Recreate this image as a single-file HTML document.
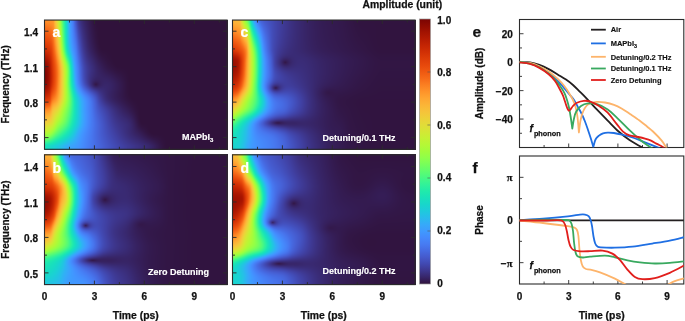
<!DOCTYPE html>
<html><head><meta charset="utf-8"><style>
html,body{margin:0;padding:0;background:#fff;}
body{width:685px;height:321px;position:relative;overflow:hidden;font-family:"Liberation Sans", sans-serif;}
canvas{position:absolute;}
svg{position:absolute;left:0;top:0;}
</style></head><body>
<canvas id="h00" width="184" height="130" style="left:44px;top:20px;width:184px;height:130px;background:linear-gradient(to right,#9b1001 0%,#dd3d08 4.5%,#fe972c 7.6%,#e1dc38 9.8%,#a2fc3c 11.5%,#59fb74 13%,#18d6cb 15.3%,#3f9afe 17.8%,#477af2 20%,#4559cc 22.4%,#3f3e9d 27%,#36215f 41%,#30123b 50%)"></canvas>
<canvas id="h01" width="184" height="131" style="left:44px;top:154px;width:184px;height:131px;background:linear-gradient(to right,#9b1001 0%,#dd3d08 4.5%,#fe972c 7.6%,#e1dc38 9.8%,#a2fc3c 11.5%,#59fb74 13%,#18d6cb 15.3%,#3f9afe 17.8%,#477af2 20%,#4559cc 22.4%,#3f3e9d 27%,#36215f 41%,#30123b 50%)"></canvas>
<canvas id="h10" width="184" height="130" style="left:232px;top:20px;width:184px;height:130px;background:linear-gradient(to right,#9b1001 0%,#dd3d08 4.5%,#fe972c 7.6%,#e1dc38 9.8%,#a2fc3c 11.5%,#59fb74 13%,#18d6cb 15.3%,#3f9afe 17.8%,#477af2 20%,#4559cc 22.4%,#3f3e9d 27%,#36215f 41%,#30123b 50%)"></canvas>
<canvas id="h11" width="184" height="131" style="left:232px;top:154px;width:184px;height:131px;background:linear-gradient(to right,#9b1001 0%,#dd3d08 4.5%,#fe972c 7.6%,#e1dc38 9.8%,#a2fc3c 11.5%,#59fb74 13%,#18d6cb 15.3%,#3f9afe 17.8%,#477af2 20%,#4559cc 22.4%,#3f3e9d 27%,#36215f 41%,#30123b 50%)"></canvas>
<svg width="685" height="321" viewBox="0 0 685 321" font-family='"Liberation Sans", sans-serif'><defs><linearGradient id="turbo" x1="0" y1="0" x2="0" y2="1"><stop offset="0.000" stop-color="#7a0403"/><stop offset="0.025" stop-color="#8f0b01"/><stop offset="0.050" stop-color="#a31301"/><stop offset="0.075" stop-color="#b41b02"/><stop offset="0.100" stop-color="#c42503"/><stop offset="0.125" stop-color="#d13005"/><stop offset="0.150" stop-color="#dd3d08"/><stop offset="0.175" stop-color="#e7490c"/><stop offset="0.200" stop-color="#ef5911"/><stop offset="0.225" stop-color="#f66b19"/><stop offset="0.250" stop-color="#fb8022"/><stop offset="0.275" stop-color="#fe942a"/><stop offset="0.300" stop-color="#fea632"/><stop offset="0.325" stop-color="#fbb537"/><stop offset="0.350" stop-color="#f6c33a"/><stop offset="0.375" stop-color="#edd039"/><stop offset="0.400" stop-color="#e1dc38"/><stop offset="0.425" stop-color="#d4e735"/><stop offset="0.450" stop-color="#c5f134"/><stop offset="0.475" stop-color="#b5f836"/><stop offset="0.500" stop-color="#a2fc3c"/><stop offset="0.525" stop-color="#8eff4a"/><stop offset="0.550" stop-color="#76fe5b"/><stop offset="0.575" stop-color="#5efc6f"/><stop offset="0.600" stop-color="#46f884"/><stop offset="0.625" stop-color="#31f299"/><stop offset="0.650" stop-color="#20eaab"/><stop offset="0.675" stop-color="#19e1bb"/><stop offset="0.700" stop-color="#18d6cb"/><stop offset="0.725" stop-color="#1ecadc"/><stop offset="0.750" stop-color="#29bbec"/><stop offset="0.775" stop-color="#36aaf9"/><stop offset="0.800" stop-color="#3f9afe"/><stop offset="0.825" stop-color="#458afc"/><stop offset="0.850" stop-color="#477bf2"/><stop offset="0.875" stop-color="#466ae1"/><stop offset="0.900" stop-color="#4559cb"/><stop offset="0.925" stop-color="#4148b0"/><stop offset="0.950" stop-color="#3d378e"/><stop offset="0.975" stop-color="#372568"/><stop offset="1.000" stop-color="#30123b"/></linearGradient></defs>
<line x1="69.46000000000001" y1="149.3" x2="69.46000000000001" y2="146.8" stroke="#2b2b2b" stroke-width="0.9"/>
<line x1="69.46000000000001" y1="20.05" x2="69.46000000000001" y2="22.55" stroke="#2b2b2b" stroke-width="0.9"/>
<line x1="94.42" y1="149.3" x2="94.42" y2="145.3" stroke="#2b2b2b" stroke-width="0.9"/>
<line x1="94.42" y1="20.05" x2="94.42" y2="24.05" stroke="#2b2b2b" stroke-width="0.9"/>
<line x1="119.38" y1="149.3" x2="119.38" y2="146.8" stroke="#2b2b2b" stroke-width="0.9"/>
<line x1="119.38" y1="20.05" x2="119.38" y2="22.55" stroke="#2b2b2b" stroke-width="0.9"/>
<line x1="144.34" y1="149.3" x2="144.34" y2="145.3" stroke="#2b2b2b" stroke-width="0.9"/>
<line x1="144.34" y1="20.05" x2="144.34" y2="24.05" stroke="#2b2b2b" stroke-width="0.9"/>
<line x1="169.3" y1="149.3" x2="169.3" y2="146.8" stroke="#2b2b2b" stroke-width="0.9"/>
<line x1="169.3" y1="20.05" x2="169.3" y2="22.55" stroke="#2b2b2b" stroke-width="0.9"/>
<line x1="194.26" y1="149.3" x2="194.26" y2="145.3" stroke="#2b2b2b" stroke-width="0.9"/>
<line x1="194.26" y1="20.05" x2="194.26" y2="24.05" stroke="#2b2b2b" stroke-width="0.9"/>
<line x1="219.22" y1="149.3" x2="219.22" y2="146.8" stroke="#2b2b2b" stroke-width="0.9"/>
<line x1="219.22" y1="20.05" x2="219.22" y2="22.55" stroke="#2b2b2b" stroke-width="0.9"/>
<line x1="44.5" y1="31.2" x2="48.5" y2="31.2" stroke="#2b2b2b" stroke-width="0.9"/>
<line x1="227.1" y1="31.2" x2="223.1" y2="31.2" stroke="#2b2b2b" stroke-width="0.9"/>
<line x1="44.5" y1="48.92999999999999" x2="47.0" y2="48.92999999999999" stroke="#2b2b2b" stroke-width="0.9"/>
<line x1="227.1" y1="48.92999999999999" x2="224.6" y2="48.92999999999999" stroke="#2b2b2b" stroke-width="0.9"/>
<line x1="44.5" y1="66.66000000000001" x2="48.5" y2="66.66000000000001" stroke="#2b2b2b" stroke-width="0.9"/>
<line x1="227.1" y1="66.66000000000001" x2="223.1" y2="66.66000000000001" stroke="#2b2b2b" stroke-width="0.9"/>
<line x1="44.5" y1="84.39" x2="47.0" y2="84.39" stroke="#2b2b2b" stroke-width="0.9"/>
<line x1="227.1" y1="84.39" x2="224.6" y2="84.39" stroke="#2b2b2b" stroke-width="0.9"/>
<line x1="44.5" y1="102.12" x2="48.5" y2="102.12" stroke="#2b2b2b" stroke-width="0.9"/>
<line x1="227.1" y1="102.12" x2="223.1" y2="102.12" stroke="#2b2b2b" stroke-width="0.9"/>
<line x1="44.5" y1="119.85000000000001" x2="47.0" y2="119.85000000000001" stroke="#2b2b2b" stroke-width="0.9"/>
<line x1="227.1" y1="119.85000000000001" x2="224.6" y2="119.85000000000001" stroke="#2b2b2b" stroke-width="0.9"/>
<line x1="44.5" y1="137.57999999999998" x2="48.5" y2="137.57999999999998" stroke="#2b2b2b" stroke-width="0.9"/>
<line x1="227.1" y1="137.57999999999998" x2="223.1" y2="137.57999999999998" stroke="#2b2b2b" stroke-width="0.9"/>
<rect x="44.5" y="20.05" width="182.6" height="129.25" fill="none" stroke="#2b2b2b" stroke-width="1.1"/>
<line x1="69.46000000000001" y1="284.6" x2="69.46000000000001" y2="282.1" stroke="#2b2b2b" stroke-width="0.9"/>
<line x1="69.46000000000001" y1="154.8" x2="69.46000000000001" y2="157.3" stroke="#2b2b2b" stroke-width="0.9"/>
<line x1="94.42" y1="284.6" x2="94.42" y2="280.6" stroke="#2b2b2b" stroke-width="0.9"/>
<line x1="94.42" y1="154.8" x2="94.42" y2="158.8" stroke="#2b2b2b" stroke-width="0.9"/>
<line x1="119.38" y1="284.6" x2="119.38" y2="282.1" stroke="#2b2b2b" stroke-width="0.9"/>
<line x1="119.38" y1="154.8" x2="119.38" y2="157.3" stroke="#2b2b2b" stroke-width="0.9"/>
<line x1="144.34" y1="284.6" x2="144.34" y2="280.6" stroke="#2b2b2b" stroke-width="0.9"/>
<line x1="144.34" y1="154.8" x2="144.34" y2="158.8" stroke="#2b2b2b" stroke-width="0.9"/>
<line x1="169.3" y1="284.6" x2="169.3" y2="282.1" stroke="#2b2b2b" stroke-width="0.9"/>
<line x1="169.3" y1="154.8" x2="169.3" y2="157.3" stroke="#2b2b2b" stroke-width="0.9"/>
<line x1="194.26" y1="284.6" x2="194.26" y2="280.6" stroke="#2b2b2b" stroke-width="0.9"/>
<line x1="194.26" y1="154.8" x2="194.26" y2="158.8" stroke="#2b2b2b" stroke-width="0.9"/>
<line x1="219.22" y1="284.6" x2="219.22" y2="282.1" stroke="#2b2b2b" stroke-width="0.9"/>
<line x1="219.22" y1="154.8" x2="219.22" y2="157.3" stroke="#2b2b2b" stroke-width="0.9"/>
<line x1="44.5" y1="166.5" x2="48.5" y2="166.5" stroke="#2b2b2b" stroke-width="0.9"/>
<line x1="227.1" y1="166.5" x2="223.1" y2="166.5" stroke="#2b2b2b" stroke-width="0.9"/>
<line x1="44.5" y1="184.23" x2="47.0" y2="184.23" stroke="#2b2b2b" stroke-width="0.9"/>
<line x1="227.1" y1="184.23" x2="224.6" y2="184.23" stroke="#2b2b2b" stroke-width="0.9"/>
<line x1="44.5" y1="201.96" x2="48.5" y2="201.96" stroke="#2b2b2b" stroke-width="0.9"/>
<line x1="227.1" y1="201.96" x2="223.1" y2="201.96" stroke="#2b2b2b" stroke-width="0.9"/>
<line x1="44.5" y1="219.69" x2="47.0" y2="219.69" stroke="#2b2b2b" stroke-width="0.9"/>
<line x1="227.1" y1="219.69" x2="224.6" y2="219.69" stroke="#2b2b2b" stroke-width="0.9"/>
<line x1="44.5" y1="237.42000000000002" x2="48.5" y2="237.42000000000002" stroke="#2b2b2b" stroke-width="0.9"/>
<line x1="227.1" y1="237.42000000000002" x2="223.1" y2="237.42000000000002" stroke="#2b2b2b" stroke-width="0.9"/>
<line x1="44.5" y1="255.15" x2="47.0" y2="255.15" stroke="#2b2b2b" stroke-width="0.9"/>
<line x1="227.1" y1="255.15" x2="224.6" y2="255.15" stroke="#2b2b2b" stroke-width="0.9"/>
<line x1="44.5" y1="272.88" x2="48.5" y2="272.88" stroke="#2b2b2b" stroke-width="0.9"/>
<line x1="227.1" y1="272.88" x2="223.1" y2="272.88" stroke="#2b2b2b" stroke-width="0.9"/>
<rect x="44.5" y="154.8" width="182.6" height="129.8" fill="none" stroke="#2b2b2b" stroke-width="1.1"/>
<line x1="257.46" y1="149.3" x2="257.46" y2="146.8" stroke="#2b2b2b" stroke-width="0.9"/>
<line x1="257.46" y1="20.05" x2="257.46" y2="22.55" stroke="#2b2b2b" stroke-width="0.9"/>
<line x1="282.42" y1="149.3" x2="282.42" y2="145.3" stroke="#2b2b2b" stroke-width="0.9"/>
<line x1="282.42" y1="20.05" x2="282.42" y2="24.05" stroke="#2b2b2b" stroke-width="0.9"/>
<line x1="307.38" y1="149.3" x2="307.38" y2="146.8" stroke="#2b2b2b" stroke-width="0.9"/>
<line x1="307.38" y1="20.05" x2="307.38" y2="22.55" stroke="#2b2b2b" stroke-width="0.9"/>
<line x1="332.34000000000003" y1="149.3" x2="332.34000000000003" y2="145.3" stroke="#2b2b2b" stroke-width="0.9"/>
<line x1="332.34000000000003" y1="20.05" x2="332.34000000000003" y2="24.05" stroke="#2b2b2b" stroke-width="0.9"/>
<line x1="357.3" y1="149.3" x2="357.3" y2="146.8" stroke="#2b2b2b" stroke-width="0.9"/>
<line x1="357.3" y1="20.05" x2="357.3" y2="22.55" stroke="#2b2b2b" stroke-width="0.9"/>
<line x1="382.26" y1="149.3" x2="382.26" y2="145.3" stroke="#2b2b2b" stroke-width="0.9"/>
<line x1="382.26" y1="20.05" x2="382.26" y2="24.05" stroke="#2b2b2b" stroke-width="0.9"/>
<line x1="407.22" y1="149.3" x2="407.22" y2="146.8" stroke="#2b2b2b" stroke-width="0.9"/>
<line x1="407.22" y1="20.05" x2="407.22" y2="22.55" stroke="#2b2b2b" stroke-width="0.9"/>
<line x1="232.5" y1="31.2" x2="236.5" y2="31.2" stroke="#2b2b2b" stroke-width="0.9"/>
<line x1="415.1" y1="31.2" x2="411.1" y2="31.2" stroke="#2b2b2b" stroke-width="0.9"/>
<line x1="232.5" y1="48.92999999999999" x2="235.0" y2="48.92999999999999" stroke="#2b2b2b" stroke-width="0.9"/>
<line x1="415.1" y1="48.92999999999999" x2="412.6" y2="48.92999999999999" stroke="#2b2b2b" stroke-width="0.9"/>
<line x1="232.5" y1="66.66000000000001" x2="236.5" y2="66.66000000000001" stroke="#2b2b2b" stroke-width="0.9"/>
<line x1="415.1" y1="66.66000000000001" x2="411.1" y2="66.66000000000001" stroke="#2b2b2b" stroke-width="0.9"/>
<line x1="232.5" y1="84.39" x2="235.0" y2="84.39" stroke="#2b2b2b" stroke-width="0.9"/>
<line x1="415.1" y1="84.39" x2="412.6" y2="84.39" stroke="#2b2b2b" stroke-width="0.9"/>
<line x1="232.5" y1="102.12" x2="236.5" y2="102.12" stroke="#2b2b2b" stroke-width="0.9"/>
<line x1="415.1" y1="102.12" x2="411.1" y2="102.12" stroke="#2b2b2b" stroke-width="0.9"/>
<line x1="232.5" y1="119.85000000000001" x2="235.0" y2="119.85000000000001" stroke="#2b2b2b" stroke-width="0.9"/>
<line x1="415.1" y1="119.85000000000001" x2="412.6" y2="119.85000000000001" stroke="#2b2b2b" stroke-width="0.9"/>
<line x1="232.5" y1="137.57999999999998" x2="236.5" y2="137.57999999999998" stroke="#2b2b2b" stroke-width="0.9"/>
<line x1="415.1" y1="137.57999999999998" x2="411.1" y2="137.57999999999998" stroke="#2b2b2b" stroke-width="0.9"/>
<rect x="232.5" y="20.05" width="182.6" height="129.25" fill="none" stroke="#2b2b2b" stroke-width="1.1"/>
<line x1="257.46" y1="284.6" x2="257.46" y2="282.1" stroke="#2b2b2b" stroke-width="0.9"/>
<line x1="257.46" y1="154.8" x2="257.46" y2="157.3" stroke="#2b2b2b" stroke-width="0.9"/>
<line x1="282.42" y1="284.6" x2="282.42" y2="280.6" stroke="#2b2b2b" stroke-width="0.9"/>
<line x1="282.42" y1="154.8" x2="282.42" y2="158.8" stroke="#2b2b2b" stroke-width="0.9"/>
<line x1="307.38" y1="284.6" x2="307.38" y2="282.1" stroke="#2b2b2b" stroke-width="0.9"/>
<line x1="307.38" y1="154.8" x2="307.38" y2="157.3" stroke="#2b2b2b" stroke-width="0.9"/>
<line x1="332.34000000000003" y1="284.6" x2="332.34000000000003" y2="280.6" stroke="#2b2b2b" stroke-width="0.9"/>
<line x1="332.34000000000003" y1="154.8" x2="332.34000000000003" y2="158.8" stroke="#2b2b2b" stroke-width="0.9"/>
<line x1="357.3" y1="284.6" x2="357.3" y2="282.1" stroke="#2b2b2b" stroke-width="0.9"/>
<line x1="357.3" y1="154.8" x2="357.3" y2="157.3" stroke="#2b2b2b" stroke-width="0.9"/>
<line x1="382.26" y1="284.6" x2="382.26" y2="280.6" stroke="#2b2b2b" stroke-width="0.9"/>
<line x1="382.26" y1="154.8" x2="382.26" y2="158.8" stroke="#2b2b2b" stroke-width="0.9"/>
<line x1="407.22" y1="284.6" x2="407.22" y2="282.1" stroke="#2b2b2b" stroke-width="0.9"/>
<line x1="407.22" y1="154.8" x2="407.22" y2="157.3" stroke="#2b2b2b" stroke-width="0.9"/>
<line x1="232.5" y1="166.5" x2="236.5" y2="166.5" stroke="#2b2b2b" stroke-width="0.9"/>
<line x1="415.1" y1="166.5" x2="411.1" y2="166.5" stroke="#2b2b2b" stroke-width="0.9"/>
<line x1="232.5" y1="184.23" x2="235.0" y2="184.23" stroke="#2b2b2b" stroke-width="0.9"/>
<line x1="415.1" y1="184.23" x2="412.6" y2="184.23" stroke="#2b2b2b" stroke-width="0.9"/>
<line x1="232.5" y1="201.96" x2="236.5" y2="201.96" stroke="#2b2b2b" stroke-width="0.9"/>
<line x1="415.1" y1="201.96" x2="411.1" y2="201.96" stroke="#2b2b2b" stroke-width="0.9"/>
<line x1="232.5" y1="219.69" x2="235.0" y2="219.69" stroke="#2b2b2b" stroke-width="0.9"/>
<line x1="415.1" y1="219.69" x2="412.6" y2="219.69" stroke="#2b2b2b" stroke-width="0.9"/>
<line x1="232.5" y1="237.42000000000002" x2="236.5" y2="237.42000000000002" stroke="#2b2b2b" stroke-width="0.9"/>
<line x1="415.1" y1="237.42000000000002" x2="411.1" y2="237.42000000000002" stroke="#2b2b2b" stroke-width="0.9"/>
<line x1="232.5" y1="255.15" x2="235.0" y2="255.15" stroke="#2b2b2b" stroke-width="0.9"/>
<line x1="415.1" y1="255.15" x2="412.6" y2="255.15" stroke="#2b2b2b" stroke-width="0.9"/>
<line x1="232.5" y1="272.88" x2="236.5" y2="272.88" stroke="#2b2b2b" stroke-width="0.9"/>
<line x1="415.1" y1="272.88" x2="411.1" y2="272.88" stroke="#2b2b2b" stroke-width="0.9"/>
<rect x="232.5" y="154.8" width="182.6" height="129.8" fill="none" stroke="#2b2b2b" stroke-width="1.1"/>
<text x="38" y="36.1" font-size="10" text-anchor="end" fill="#111" font-weight="bold" stroke="#111" stroke-width="0.25" >1.4</text>
<text x="38" y="71.56" font-size="10" text-anchor="end" fill="#111" font-weight="bold" stroke="#111" stroke-width="0.25" >1.1</text>
<text x="38" y="107.02" font-size="10" text-anchor="end" fill="#111" font-weight="bold" stroke="#111" stroke-width="0.25" >0.8</text>
<text x="38" y="142.48" font-size="10" text-anchor="end" fill="#111" font-weight="bold" stroke="#111" stroke-width="0.25" >0.5</text>
<text x="0" y="0" font-size="10" text-anchor="middle" fill="#111" font-weight="bold" stroke="#111" stroke-width="0.25" transform="translate(9.3,84.4) rotate(-90)">Frequency (THz)</text>
<text x="38" y="171.4" font-size="10" text-anchor="end" fill="#111" font-weight="bold" stroke="#111" stroke-width="0.25" >1.4</text>
<text x="38" y="206.86" font-size="10" text-anchor="end" fill="#111" font-weight="bold" stroke="#111" stroke-width="0.25" >1.1</text>
<text x="38" y="242.32" font-size="10" text-anchor="end" fill="#111" font-weight="bold" stroke="#111" stroke-width="0.25" >0.8</text>
<text x="38" y="277.78" font-size="10" text-anchor="end" fill="#111" font-weight="bold" stroke="#111" stroke-width="0.25" >0.5</text>
<text x="0" y="0" font-size="10" text-anchor="middle" fill="#111" font-weight="bold" stroke="#111" stroke-width="0.25" transform="translate(9.3,219.70000000000002) rotate(-90)">Frequency (THz)</text>
<text x="44.5" y="299.5" font-size="10" text-anchor="middle" fill="#111" font-weight="bold" stroke="#111" stroke-width="0.25" >0</text>
<text x="94.42" y="299.5" font-size="10" text-anchor="middle" fill="#111" font-weight="bold" stroke="#111" stroke-width="0.25" >3</text>
<text x="144.34" y="299.5" font-size="10" text-anchor="middle" fill="#111" font-weight="bold" stroke="#111" stroke-width="0.25" >6</text>
<text x="194.26" y="299.5" font-size="10" text-anchor="middle" fill="#111" font-weight="bold" stroke="#111" stroke-width="0.25" >9</text>
<text x="135.8" y="318.6" font-size="10.4" text-anchor="middle" fill="#111" font-weight="bold" stroke="#111" stroke-width="0.25" >Time (ps)</text>
<text x="232.5" y="299.5" font-size="10" text-anchor="middle" fill="#111" font-weight="bold" stroke="#111" stroke-width="0.25" >0</text>
<text x="282.42" y="299.5" font-size="10" text-anchor="middle" fill="#111" font-weight="bold" stroke="#111" stroke-width="0.25" >3</text>
<text x="332.34" y="299.5" font-size="10" text-anchor="middle" fill="#111" font-weight="bold" stroke="#111" stroke-width="0.25" >6</text>
<text x="382.26" y="299.5" font-size="10" text-anchor="middle" fill="#111" font-weight="bold" stroke="#111" stroke-width="0.25" >9</text>
<text x="323.8" y="318.6" font-size="10.4" text-anchor="middle" fill="#111" font-weight="bold" stroke="#111" stroke-width="0.25" >Time (ps)</text>
<text x="52.4" y="37.2" font-size="14" text-anchor="start" fill="#fff" font-weight="bold" stroke="#fff" stroke-width="0.2" >a</text>
<text x="52.4" y="172.5" font-size="14" text-anchor="start" fill="#fff" font-weight="bold" stroke="#fff" stroke-width="0.2" >b</text>
<text x="240.4" y="37.2" font-size="14" text-anchor="start" fill="#fff" font-weight="bold" stroke="#fff" stroke-width="0.2" >c</text>
<text x="240.4" y="172.5" font-size="14" text-anchor="start" fill="#fff" font-weight="bold" stroke="#fff" stroke-width="0.2" >d</text>
<text x="182.0" y="139.8" font-size="9" text-anchor="start" fill="#fff" font-weight="bold" stroke="#fff" stroke-width="0.15" >MAPbI<tspan font-size="6" dy="2.2">3</tspan></text>
<text x="148.0" y="274.8" font-size="9" text-anchor="start" fill="#fff" font-weight="bold" stroke="#fff" stroke-width="0.15" >Zero Detuning</text>
<text x="322.4" y="140.5" font-size="9" text-anchor="start" fill="#fff" font-weight="bold" stroke="#fff" stroke-width="0.15" >Detuning/0.1 THz</text>
<text x="322.5" y="274.4" font-size="9" text-anchor="start" fill="#fff" font-weight="bold" stroke="#fff" stroke-width="0.15" >Detuning/0.2 THz</text>
<rect x="419.5" y="19" width="11" height="265" fill="url(#turbo)" stroke="#9a9a9a" stroke-width="0.7"/>
<line x1="427.4" y1="72.0" x2="430.4" y2="72.0" stroke="#555" stroke-width="0.6"/>
<line x1="427.4" y1="125.0" x2="430.4" y2="125.0" stroke="#555" stroke-width="0.6"/>
<line x1="427.4" y1="178.0" x2="430.4" y2="178.0" stroke="#555" stroke-width="0.6"/>
<line x1="427.4" y1="231.0" x2="430.4" y2="231.0" stroke="#555" stroke-width="0.6"/>
<text x="437.3" y="23.5" font-size="10" text-anchor="start" fill="#111" font-weight="bold" stroke="#111" stroke-width="0.25" >1.0</text>
<text x="437.3" y="76.12" font-size="10" text-anchor="start" fill="#111" font-weight="bold" stroke="#111" stroke-width="0.25" >0.8</text>
<text x="437.3" y="128.74" font-size="10" text-anchor="start" fill="#111" font-weight="bold" stroke="#111" stroke-width="0.25" >0.6</text>
<text x="437.3" y="181.36" font-size="10" text-anchor="start" fill="#111" font-weight="bold" stroke="#111" stroke-width="0.25" >0.4</text>
<text x="437.3" y="233.98" font-size="10" text-anchor="start" fill="#111" font-weight="bold" stroke="#111" stroke-width="0.25" >0.2</text>
<text x="437.3" y="286.6" font-size="10" text-anchor="start" fill="#111" font-weight="bold" stroke="#111" stroke-width="0.25" >0</text>
<text x="402.3" y="8.3" font-size="10.4" text-anchor="middle" fill="#111" font-weight="bold" stroke="#111" stroke-width="0.25" >Amplitude (unit)</text>
<rect x="519.5" y="19.5" width="164.29999999999995" height="128.0" fill="none" stroke="#2b2b2b" stroke-width="1.1"/>
<line x1="544.1" y1="147.5" x2="544.1" y2="145.0" stroke="#2b2b2b" stroke-width="0.9"/>
<line x1="568.7" y1="147.5" x2="568.7" y2="143.5" stroke="#2b2b2b" stroke-width="0.9"/>
<line x1="593.3" y1="147.5" x2="593.3" y2="145.0" stroke="#2b2b2b" stroke-width="0.9"/>
<line x1="617.9" y1="147.5" x2="617.9" y2="143.5" stroke="#2b2b2b" stroke-width="0.9"/>
<line x1="642.5" y1="147.5" x2="642.5" y2="145.0" stroke="#2b2b2b" stroke-width="0.9"/>
<line x1="667.1" y1="147.5" x2="667.1" y2="143.5" stroke="#2b2b2b" stroke-width="0.9"/>
<rect x="519.5" y="156" width="164.29999999999995" height="128" fill="none" stroke="#2b2b2b" stroke-width="1.1"/>
<line x1="544.1" y1="284" x2="544.1" y2="281.5" stroke="#2b2b2b" stroke-width="0.9"/>
<line x1="568.7" y1="284" x2="568.7" y2="280" stroke="#2b2b2b" stroke-width="0.9"/>
<line x1="593.3" y1="284" x2="593.3" y2="281.5" stroke="#2b2b2b" stroke-width="0.9"/>
<line x1="617.9" y1="284" x2="617.9" y2="280" stroke="#2b2b2b" stroke-width="0.9"/>
<line x1="642.5" y1="284" x2="642.5" y2="281.5" stroke="#2b2b2b" stroke-width="0.9"/>
<line x1="667.1" y1="284" x2="667.1" y2="280" stroke="#2b2b2b" stroke-width="0.9"/>
<line x1="519.5" y1="33.72222222222222" x2="523.5" y2="33.72222222222222" stroke="#2b2b2b" stroke-width="0.9"/>
<line x1="519.5" y1="47.94444444444444" x2="522.0" y2="47.94444444444444" stroke="#2b2b2b" stroke-width="0.9"/>
<line x1="519.5" y1="62.166666666666664" x2="523.5" y2="62.166666666666664" stroke="#2b2b2b" stroke-width="0.9"/>
<line x1="519.5" y1="76.38888888888889" x2="522.0" y2="76.38888888888889" stroke="#2b2b2b" stroke-width="0.9"/>
<line x1="519.5" y1="90.61111111111111" x2="523.5" y2="90.61111111111111" stroke="#2b2b2b" stroke-width="0.9"/>
<line x1="519.5" y1="104.83333333333333" x2="522.0" y2="104.83333333333333" stroke="#2b2b2b" stroke-width="0.9"/>
<line x1="519.5" y1="119.05555555555556" x2="523.5" y2="119.05555555555556" stroke="#2b2b2b" stroke-width="0.9"/>
<line x1="519.5" y1="133.27777777777777" x2="522.0" y2="133.27777777777777" stroke="#2b2b2b" stroke-width="0.9"/>
<text x="512.8" y="37.62" font-size="10" text-anchor="end" fill="#111" font-weight="bold" stroke="#111" stroke-width="0.25" >20</text>
<text x="512.8" y="66.07" font-size="10" text-anchor="end" fill="#111" font-weight="bold" stroke="#111" stroke-width="0.25" >0</text>
<text x="512.8" y="94.51" font-size="10" text-anchor="end" fill="#111" font-weight="bold" stroke="#111" stroke-width="0.25" >−20</text>
<text x="512.8" y="122.96" font-size="10" text-anchor="end" fill="#111" font-weight="bold" stroke="#111" stroke-width="0.25" >−40</text>
<line x1="519.5" y1="177.33333333333334" x2="523.5" y2="177.33333333333334" stroke="#2b2b2b" stroke-width="0.9"/>
<line x1="519.5" y1="198.66666666666666" x2="522.0" y2="198.66666666666666" stroke="#2b2b2b" stroke-width="0.9"/>
<line x1="519.5" y1="220.0" x2="523.5" y2="220.0" stroke="#2b2b2b" stroke-width="0.9"/>
<line x1="519.5" y1="241.33333333333331" x2="522.0" y2="241.33333333333331" stroke="#2b2b2b" stroke-width="0.9"/>
<line x1="519.5" y1="262.6666666666667" x2="523.5" y2="262.6666666666667" stroke="#2b2b2b" stroke-width="0.9"/>
<text x="512.4" y="181.23" font-size="10" text-anchor="end" fill="#111" font-weight="bold" stroke="#111" stroke-width="0.25" ><tspan font-family="Liberation Serif" font-size="10.5">π</tspan></text>
<text x="512.8" y="223.9" font-size="10" text-anchor="end" fill="#111" font-weight="bold" stroke="#111" stroke-width="0.25" >0</text>
<text x="512.4" y="266.57" font-size="10" text-anchor="end" fill="#111" font-weight="bold" stroke="#111" stroke-width="0.25" >−<tspan font-family="Liberation Serif" font-size="10.5">π</tspan></text>
<text x="0" y="0" font-size="10" text-anchor="middle" fill="#111" font-weight="bold" stroke="#111" stroke-width="0.25" transform="translate(483.3,83.5) rotate(-90)">Amplitude (dB)</text>
<text x="0" y="0" font-size="10" text-anchor="middle" fill="#111" font-weight="bold" stroke="#111" stroke-width="0.25" transform="translate(483.3,220.0) rotate(-90)">Phase</text>
<text x="472.4" y="37.4" font-size="15.5" text-anchor="start" fill="#111" font-weight="bold" stroke="#111" stroke-width="0.25" >e</text>
<text x="472.4" y="173.4" font-size="15.5" text-anchor="start" fill="#111" font-weight="bold" stroke="#111" stroke-width="0.25" >f</text>
<text x="519.5" y="299.5" font-size="10" text-anchor="middle" fill="#111" font-weight="bold" stroke="#111" stroke-width="0.25" >0</text>
<text x="568.7" y="299.5" font-size="10" text-anchor="middle" fill="#111" font-weight="bold" stroke="#111" stroke-width="0.25" >3</text>
<text x="617.9" y="299.5" font-size="10" text-anchor="middle" fill="#111" font-weight="bold" stroke="#111" stroke-width="0.25" >6</text>
<text x="667.1" y="299.5" font-size="10" text-anchor="middle" fill="#111" font-weight="bold" stroke="#111" stroke-width="0.25" >9</text>
<text x="601.65" y="318.6" font-size="10.4" text-anchor="middle" fill="#111" font-weight="bold" stroke="#111" stroke-width="0.25" >Time (ps)</text>
<clipPath id="ce"><rect x="519.5" y="19.5" width="164.3" height="128"/></clipPath>
<clipPath id="cf"><rect x="519.5" y="156" width="164.3" height="128"/></clipPath>
<g clip-path="url(#ce)" fill="none" stroke-width="1.8" stroke-linejoin="round" stroke-linecap="round">
<path d="M519.50,61.90 C521.25,61.98 526.68,61.90 530.00,62.40 C533.32,62.90 536.28,63.78 539.40,64.90 C542.52,66.02 545.60,67.47 548.70,69.10 C551.80,70.73 555.12,72.95 558.00,74.70 C560.88,76.45 563.50,77.88 566.00,79.60 C568.50,81.32 570.67,82.97 573.00,85.00 C575.33,87.03 577.83,89.67 580.00,91.80 C582.17,93.93 583.20,94.87 586.00,97.80 C588.80,100.73 593.18,105.60 596.80,109.40 C600.42,113.20 604.07,116.92 607.70,120.60 C611.33,124.28 614.97,128.27 618.60,131.50 C622.23,134.73 625.77,137.45 629.50,140.00 C633.23,142.55 638.42,145.30 641.00,146.80 C643.58,148.30 644.33,148.63 645.00,149.00" stroke="#231f20"/>
<path d="M519.50,62.00 C521.25,62.22 526.68,62.50 530.00,63.30 C533.32,64.10 536.28,65.22 539.40,66.80 C542.52,68.38 545.60,70.43 548.70,72.80 C551.80,75.17 555.62,78.70 558.00,81.00 C560.38,83.30 561.12,84.38 563.00,86.60 C564.88,88.82 567.47,92.07 569.30,94.30 C571.13,96.53 572.62,97.97 574.00,100.00 C575.38,102.03 576.35,104.25 577.60,106.50 C578.85,108.75 580.27,111.00 581.50,113.50 C582.73,116.00 583.90,118.72 585.00,121.50 C586.10,124.28 587.10,127.28 588.10,130.20 C589.10,133.12 590.13,136.20 591.00,139.00 C591.87,141.80 592.92,145.67 593.30,147.00 C593.67,145.75 594.55,141.40 595.50,139.50 C596.45,137.60 597.75,136.62 599.00,135.60 C600.25,134.58 601.55,133.90 603.00,133.40 C604.45,132.90 605.87,132.67 607.70,132.60 C609.53,132.53 611.60,132.65 614.00,133.00 C616.40,133.35 619.03,133.95 622.10,134.70 C625.17,135.45 628.68,136.27 632.40,137.50 C636.12,138.73 640.40,140.53 644.40,142.10 C648.40,143.67 653.80,145.83 656.40,146.90 C659.00,147.97 659.40,148.23 660.00,148.50" stroke="#1f6fe3"/>
<path d="M519.50,61.90 C521.25,62.08 526.68,62.27 530.00,63.00 C533.32,63.73 536.28,64.87 539.40,66.30 C542.52,67.73 545.60,69.45 548.70,71.60 C551.80,73.75 555.40,76.80 558.00,79.20 C560.60,81.60 562.42,83.63 564.30,86.00 C566.18,88.37 567.85,91.07 569.30,93.40 C570.75,95.73 571.95,97.73 573.00,100.00 C574.05,102.27 574.85,104.17 575.60,107.00 C576.35,109.83 576.95,112.75 577.50,117.00 C578.05,121.25 578.67,129.92 578.90,132.50 C579.18,130.42 579.87,123.58 580.60,120.00 C581.33,116.42 582.27,113.42 583.30,111.00 C584.33,108.58 585.63,106.78 586.80,105.50 C587.97,104.22 588.63,103.90 590.30,103.30 C591.97,102.70 594.35,102.03 596.80,101.90 C599.25,101.77 602.13,102.02 605.00,102.50 C607.87,102.98 611.17,103.77 614.00,104.80 C616.83,105.83 619.33,107.17 622.00,108.70 C624.67,110.23 627.08,112.03 630.00,114.00 C632.92,115.97 636.67,118.42 639.50,120.50 C642.33,122.58 644.75,124.67 647.00,126.50 C649.25,128.33 650.58,129.18 653.00,131.50 C655.42,133.82 659.33,137.82 661.50,140.40 C663.67,142.98 665.00,145.48 666.00,147.00 C667.00,148.52 667.25,149.08 667.50,149.50" stroke="#fdb46b"/>
<path d="M519.50,62.00 C521.25,62.27 526.68,62.72 530.00,63.60 C533.32,64.48 536.28,65.60 539.40,67.30 C542.52,69.00 546.10,71.72 548.70,73.80 C551.30,75.88 553.02,77.63 555.00,79.80 C556.98,81.97 559.00,84.53 560.60,86.80 C562.20,89.07 563.53,91.20 564.60,93.40 C565.67,95.60 566.27,97.65 567.00,100.00 C567.73,102.35 568.38,104.67 569.00,107.50 C569.62,110.33 570.15,113.48 570.70,117.00 C571.25,120.52 572.03,126.67 572.30,128.60 C572.57,127.00 573.28,121.77 573.90,119.00 C574.52,116.23 574.82,114.17 576.00,112.00 C577.18,109.83 579.00,107.43 581.00,106.00 C583.00,104.57 585.33,103.70 588.00,103.40 C590.67,103.10 593.72,103.20 597.00,104.20 C600.28,105.20 604.10,106.88 607.70,109.40 C611.30,111.92 614.97,115.83 618.60,119.30 C622.23,122.77 625.87,126.75 629.50,130.20 C633.13,133.65 637.48,137.53 640.40,140.00 C643.32,142.47 645.23,143.75 647.00,145.00 C648.77,146.25 650.00,146.83 651.00,147.50 C652.00,148.17 652.67,148.75 653.00,149.00" stroke="#39a95f"/>
<path d="M519.50,62.50 C521.25,62.73 526.68,63.00 530.00,63.90 C533.32,64.80 536.28,66.17 539.40,67.90 C542.52,69.63 546.10,72.12 548.70,74.30 C551.30,76.48 553.28,78.75 555.00,81.00 C556.72,83.25 557.70,85.43 559.00,87.80 C560.30,90.17 561.80,92.92 562.80,95.20 C563.80,97.48 564.30,99.45 565.00,101.50 C565.70,103.55 566.38,105.98 567.00,107.50 C567.62,109.02 568.12,110.27 568.70,110.60 C569.28,110.93 569.78,110.27 570.50,109.50 C571.22,108.73 571.92,107.12 573.00,106.00 C574.08,104.88 575.22,103.67 577.00,102.80 C578.78,101.93 581.48,101.00 583.70,100.80 C585.92,100.60 587.75,100.73 590.30,101.60 C592.85,102.47 596.10,104.15 599.00,106.00 C601.90,107.85 604.80,109.77 607.70,112.70 C610.60,115.63 613.85,120.45 616.40,123.60 C618.95,126.75 620.82,129.63 623.00,131.60 C625.18,133.57 626.97,134.50 629.50,135.40 C632.03,136.30 635.62,136.47 638.20,137.00 C640.78,137.53 642.87,138.00 645.00,138.60 C647.13,139.20 649.10,139.77 651.00,140.60 C652.90,141.43 654.50,142.58 656.40,143.60 C658.30,144.62 660.97,145.88 662.40,146.70 C663.83,147.52 664.57,148.20 665.00,148.50" stroke="#e11f1c"/>
</g>
<g clip-path="url(#cf)" fill="none" stroke-width="1.8" stroke-linejoin="round" stroke-linecap="round">
<path d="M519.50,220.30 C546.92,220.30 656.58,220.30 684.00,220.30" stroke="#231f20"/>
<path d="M519.50,220.20 C523.42,219.95 534.93,219.35 543.00,218.70 C551.07,218.05 561.73,216.98 567.90,216.30 C574.07,215.62 577.15,214.88 580.00,214.60 C582.85,214.32 583.57,214.33 585.00,214.60 C586.43,214.87 587.67,215.30 588.60,216.20 C589.53,217.10 590.03,218.37 590.60,220.00 C591.17,221.63 591.52,223.25 592.00,226.00 C592.48,228.75 592.97,233.58 593.50,236.50 C594.03,239.42 594.53,241.82 595.20,243.50 C595.87,245.18 596.53,245.95 597.50,246.60 C598.47,247.25 598.10,247.22 601.00,247.40 C603.90,247.58 609.67,247.82 614.90,247.70 C620.13,247.58 626.17,247.38 632.40,246.70 C638.63,246.02 646.07,244.62 652.30,243.60 C658.53,242.58 664.52,241.67 669.80,240.60 C675.08,239.53 681.63,237.77 684.00,237.20" stroke="#1f6fe3"/>
<path d="M519.50,220.50 C523.42,220.92 534.93,222.05 543.00,223.00 C551.07,223.95 562.65,225.43 567.90,226.20 C573.15,226.97 572.98,226.97 574.50,227.60 C576.02,228.23 576.35,228.60 577.00,230.00 C577.65,231.40 577.98,232.67 578.40,236.00 C578.82,239.33 579.10,246.00 579.50,250.00 C579.90,254.00 580.25,257.25 580.80,260.00 C581.35,262.75 581.93,265.00 582.80,266.50 C583.67,268.00 584.75,268.48 586.00,269.00 C587.25,269.52 587.97,269.05 590.30,269.60 C592.63,270.15 595.90,270.80 600.00,272.30 C604.10,273.80 610.33,276.40 614.90,278.60 C619.47,280.80 623.22,283.27 627.40,285.50 C631.58,287.73 637.90,290.92 640.00,292.00" stroke="#fdb46b"/>
<path d="M655.00,292.00 C657.05,290.83 664.00,286.82 667.30,285.00 C670.60,283.18 672.02,282.22 674.80,281.10 C677.58,279.98 682.47,278.77 684.00,278.30" stroke="#fdb46b"/>
<path d="M519.50,220.20 C523.42,220.10 535.35,219.63 543.00,219.60 C550.65,219.57 560.97,219.80 565.40,220.00 C569.83,220.20 568.57,220.13 569.60,220.80 C570.63,221.47 571.03,222.30 571.60,224.00 C572.17,225.70 572.58,227.83 573.00,231.00 C573.42,234.17 573.68,239.50 574.10,243.00 C574.52,246.50 574.93,249.80 575.50,252.00 C576.07,254.20 576.28,255.28 577.50,256.20 C578.72,257.12 580.72,257.42 582.80,257.50 C584.88,257.58 586.30,257.02 590.00,256.70 C593.70,256.38 600.85,255.50 605.00,255.60 C609.15,255.70 611.17,256.52 614.90,257.30 C618.63,258.08 623.23,259.47 627.40,260.30 C631.57,261.13 635.33,261.77 639.90,262.30 C644.47,262.83 649.82,263.40 654.80,263.50 C659.78,263.60 664.93,263.27 669.80,262.90 C674.67,262.53 681.63,261.57 684.00,261.30" stroke="#39a95f"/>
<path d="M519.50,220.50 C523.42,220.50 536.60,220.55 543.00,220.50 C549.40,220.45 554.65,220.12 557.90,220.20 C561.15,220.28 561.32,220.28 562.50,221.00 C563.68,221.72 564.28,222.83 565.00,224.50 C565.72,226.17 566.20,228.33 566.80,231.00 C567.40,233.67 567.98,237.92 568.60,240.50 C569.22,243.08 569.68,244.92 570.50,246.50 C571.32,248.08 571.87,249.20 573.50,250.00 C575.13,250.80 577.55,251.10 580.30,251.30 C583.05,251.50 586.30,251.32 590.00,251.20 C593.70,251.08 598.77,250.20 602.50,250.60 C606.23,251.00 609.50,252.05 612.40,253.60 C615.30,255.15 617.40,257.23 619.90,259.90 C622.40,262.57 624.90,266.75 627.40,269.60 C629.90,272.45 632.40,275.40 634.90,277.00 C637.40,278.60 639.08,279.02 642.40,279.20 C645.72,279.38 650.23,279.17 654.80,278.10 C659.37,277.03 664.93,274.88 669.80,272.80 C674.67,270.72 681.63,266.80 684.00,265.60" stroke="#e11f1c"/>
</g>
<line x1="591" y1="29.7" x2="605.8" y2="29.7" stroke="#231f20" stroke-width="1.8"/>
<text x="610.7" y="32.4" font-size="7.5" text-anchor="start" fill="#111" font-weight="bold" stroke="#111" stroke-width="0.15" >Air</text>
<line x1="591" y1="43.4" x2="605.8" y2="43.4" stroke="#1f6fe3" stroke-width="1.8"/>
<text x="610.7" y="46.1" font-size="7.5" text-anchor="start" fill="#111" font-weight="bold" stroke="#111" stroke-width="0.15" >MAPbI<tspan font-size="5.5" dy="2.3">3</tspan></text>
<line x1="591" y1="56.8" x2="605.8" y2="56.8" stroke="#fdb46b" stroke-width="1.8"/>
<text x="610.7" y="59.5" font-size="7.5" text-anchor="start" fill="#111" font-weight="bold" stroke="#111" stroke-width="0.15" >Detuning/0.2 THz</text>
<line x1="591" y1="68.5" x2="605.8" y2="68.5" stroke="#39a95f" stroke-width="1.8"/>
<text x="610.7" y="71.2" font-size="7.5" text-anchor="start" fill="#111" font-weight="bold" stroke="#111" stroke-width="0.15" >Detuning/0.1 THz</text>
<line x1="591" y1="80.0" x2="605.8" y2="80.0" stroke="#e11f1c" stroke-width="1.8"/>
<text x="610.7" y="82.7" font-size="7.5" text-anchor="start" fill="#111" font-weight="bold" stroke="#111" stroke-width="0.15" >Zero Detuning</text>
<text x="529.5" y="131.8" font-size="10.5" text-anchor="start" fill="#111" font-weight="bold" stroke="#111" stroke-width="0.25" font-style="italic">f</text>
<text x="533.9" y="135.60000000000002" font-size="7.3" text-anchor="start" fill="#111" font-weight="bold" stroke="#111" stroke-width="0.25" >phonon</text>
<text x="529.5" y="268.7" font-size="10.5" text-anchor="start" fill="#111" font-weight="bold" stroke="#111" stroke-width="0.25" font-style="italic">f</text>
<text x="533.9" y="272.5" font-size="7.3" text-anchor="start" fill="#111" font-weight="bold" stroke="#111" stroke-width="0.25" >phonon</text>
</svg>
<script>
const TB="30123b351e58392a733d358b4040a2424bb54456c74661d6466be34776ee4680f6458afc4294ff3d9efe37a8fa2fb2f427bee920c7df1bd0d518d7ca18dec01ae4b620eaac2aefa135f39443f78752fa7a61fc6c71fe5f80ff538fff499cfe40a9fb39b4f836bef434c8ef34d2e935dbe236e3db38ebd339f1cb3af6c33afaba39fcb136fea732fe9b2dfe9029fc8423f9751df56918f15d13ec530fe7490ce14109da3907d23105ca2a04c12302b71d02ac1701a11201950d018808027a0403";const TC=[];for(let i=0;i<64;i++)TC.push([parseInt(TB.substr(i*6,2),16),parseInt(TB.substr(i*6+2,2),16),parseInt(TB.substr(i*6+4,2),16)]);
function cm(v){v=Math.max(0,Math.min(1,v))*63;const i=Math.min(62,Math.floor(v)),u=v-i,a=TC[i],b=TC[i+1];return [a[0]+(b[0]-a[0])*u,a[1]+(b[1]-a[1])*u,a[2]+(b[2]-a[2])*u];}
function pchip(P){const n=P.length,xs=P.map(p=>p[0]),ys=P.map(p=>p[1]),h=[],d=[],m=[];
for(let i=0;i<n-1;i++){h[i]=xs[i+1]-xs[i];d[i]=(ys[i+1]-ys[i])/h[i];}
m[0]=d[0];m[n-1]=0;for(let i=1;i<n-1;i++){if(d[i-1]*d[i]<=0)m[i]=0;else{const w1=2*h[i]+h[i-1],w2=h[i]+2*h[i-1];m[i]=(w1+w2)/(w1/d[i-1]+w2/d[i]);}}
return function(x){if(x<=xs[0])return ys[0];if(x>=xs[n-1])return ys[n-1];let i=0;while(x>xs[i+1])i++;const t=(x-xs[i])/h[i],t2=t*t,t3=t2*t;
return (2*t3-3*t2+1)*ys[i]+(t3-2*t2+t)*h[i]*m[i]+(-2*t3+3*t2)*ys[i+1]+(t3-t2)*h[i]*m[i+1];};}
function crw(fs,f){/* catmull-rom weights over nodes fs (descending or ascending) */const n=fs.length,w=new Array(n).fill(0);
let asc=fs[0]<fs[n-1];const g=asc?fs:fs.slice().reverse();let k;
if(f<=g[0]){k=0;w[asc?0:n-1]=1;return w;}if(f>=g[n-1]){w[asc?n-1:0]=1;return w;}
k=0;while(f>g[k+1])k++;const x0=g[k],x1=g[k+1],h=x1-x0,u=(f-x0)/h,u2=u*u,u3=u2*u;
const h00=2*u3-3*u2+1,h10=u3-2*u2+u,h01=-2*u3+3*u2,h11=u3-u2;const W=new Array(n).fill(0);
W[k]+=h00;W[k+1]+=h01;
/* tangent at k: (y[k+1]-y[k-1])/(x[k+1]-x[k-1]) * h */
const tan=(j,c)=>{if(j<=0){W[1]+=c/(g[1]-g[0])*h;W[0]-=c/(g[1]-g[0])*h;}else if(j>=n-1){W[n-1]+=c/(g[n-1]-g[n-2])*h;W[n-2]-=c/(g[n-1]-g[n-2])*h;}else{const dd=g[j+1]-g[j-1];W[j+1]+=c/dd*h;W[j-1]-=c/dd*h;}};
tan(k,h10);tan(k+1,h11);if(!asc)W.reverse();return W;}
const PP={"h00":{"rows":[[1.48,[[0,0.74],[0.52,0.72],[0.66,0.65],[0.77,0.6],[0.94,0.5],[1.08,0.42],[1.33,0.3],[1.54,0.2],[1.72,0.15],[1.865,0.1],[2.08,0.05],[2.5,0.02],[3.2,0]]],[1.25,[[0,0.88],[0.36,0.85],[0.57,0.78],[0.71,0.72],[0.93,0.6],[1.06,0.5],[1.19,0.42],[1.4,0.3],[1.68,0.2],[1.89,0.15],[2.065,0.1],[2.36,0.05],[2.78,0.02],[3.5,0]]],[1.1,[[0,0.99],[0.25,0.95],[0.52,0.85],[0.72,0.78],[0.87,0.72],[1.1,0.6],[1.29,0.5],[1.45,0.42],[1.64,0.3],[1.85,0.2],[2.02,0.15],[2.22,0.1],[2.4,0.07],[2.62,0.05],[2.9,0.035],[3.25,0.02],[3.9,0.005],[4.5,0]]],[0.955,[[0,0.99],[0.25,0.95],[0.52,0.85],[0.72,0.78],[0.87,0.72],[1.12,0.6],[1.32,0.5],[1.48,0.42],[1.71,0.3],[1.94,0.2],[2.12,0.15],[2.35,0.1],[2.58,0.07],[2.82,0.05],[3.2,0.035],[3.9,0.025],[4.5,0.012],[5.2,0]]],[0.83,[[0,0.88],[0.3,0.85],[0.45,0.78],[0.73,0.72],[1.08,0.6],[1.33,0.5],[1.57,0.42],[1.89,0.3],[2.35,0.2],[2.7,0.15],[3.05,0.1],[3.35,0.06],[3.8,0.03],[4.5,0.012],[5.4,0]]],[0.73,[[0,0.74],[0.31,0.72],[0.52,0.65],[0.8,0.6],[1.15,0.5],[1.51,0.42],[1.93,0.3],[2.42,0.2],[2.8,0.15],[3.2,0.1],[3.7,0.065],[4.3,0.035],[5.0,0.015],[5.8,0]]],[0.62,[[0,0.63],[0.38,0.6],[0.8,0.5],[1.3,0.42],[1.86,0.3],[2.42,0.2],[2.84,0.15],[3.415,0.1],[4.3,0.05],[5.1,0.03],[5.9,0]]],[0.53,[[0,0.52],[0.28,0.5],[0.73,0.42],[1.15,0.36],[1.57,0.3],[2.21,0.2],[2.77,0.15],[3.465,0.1],[4.6,0.05],[5.6,0.02],[6.6,0]]],[0.43,[[0,0.33],[0.7,0.28],[1.51,0.22],[1.93,0.2],[2.7,0.15],[3.665,0.1],[4.813,0.06],[6.2,0.03],[7.4,0]]]],"dips":[[3.09,0.95,0.32,0.038,0.8,1.3]],"bumps":[]},"h01":{"rows":[[1.48,[[0,0.69],[0.33,0.68],[0.48,0.6],[0.66,0.5],[0.83,0.42],[1.04,0.3],[1.25,0.2],[1.46,0.15],[1.647,0.125],[2.208,0.11],[2.892,0.0859],[3.546,0.0468],[3.9,0.0279],[4.25,0.0156],[5.5,0.0104],[7.6,0.0051],[9.5,0.0026]]],[1.35,[[0,0.79],[0.41,0.75],[0.62,0.65],[0.8,0.6],[0.97,0.5],[1.15,0.42],[1.43,0.3],[1.71,0.2],[2.03,0.15],[2.397,0.125],[2.778,0.1069],[3.152,0.0822],[3.576,0.0593],[3.96,0.0393],[4.45,0.0234],[5.3,0.0182],[6.35,0.0119],[7.6,0.0051],[9.5,0.0026]]],[1.23,[[0,0.87],[0.41,0.85],[0.76,0.78],[0.97,0.72],[1.25,0.6],[1.43,0.5],[1.6,0.42],[1.89,0.3],[2.17,0.2],[2.58,0.15],[2.934,0.109],[3.579,0.0677],[4.106,0.0429],[4.94,0.0312],[6,0.0181],[6.9,0.0112],[7.6,0.0051],[9.5,0.0026]]],[1.12,[[0,0.97],[0.3,0.95],[0.7,0.85],[0.97,0.72],[1.34,0.6],[1.52,0.5],[1.69,0.42],[1.94,0.3],[2.31,0.2],[2.653,0.1438],[3.0,0.089],[4.247,0.0429],[4.94,0.0351],[5.65,0.0233],[6.34,0.0137],[6.9,0.009],[7.6,0.0051],[9.5,0.0026]]],[0.99,[[0,0.94],[0.2,0.92],[0.5,0.85],[0.76,0.72],[1.04,0.6],[1.3,0.5],[1.54,0.42],[1.84,0.3],[2.18,0.2],[2.4,0.16],[2.8,0.1211],[3.4,0.0831],[4.266,0.0546],[4.95,0.0452],[5.65,0.03],[6.34,0.018],[6.9,0.0112],[7.6,0.0051],[9.5,0.0026]]],[0.845,[[0,0.74],[0.33,0.72],[0.62,0.6],[0.97,0.5],[1.36,0.42],[1.81,0.3],[2.23,0.2],[2.63,0.1592],[2.944,0.123],[3.586,0.0718],[4.247,0.0429],[4.94,0.0296],[5.65,0.0166],[6.34,0.0093],[7.6,0.0051],[9.5,0.0026]]],[0.72,[[0,0.6],[0.6,0.52],[1.4,0.42],[2.0,0.3],[2.6,0.2],[3.0,0.1453],[3.291,0.107],[3.599,0.0801],[4.26,0.0507],[4.94,0.0351],[5.65,0.02],[6.34,0.0109],[7.6,0.0051],[9.5,0.0026]]],[0.61,[[0,0.4],[0.9,0.38],[1.67,0.28],[2.23,0.2],[2.957,0.1321],[3.592,0.076],[4.26,0.0507],[4.94,0.0351],[5.65,0.02],[6.34,0.0109],[7.6,0.0051],[9.5,0.0026]]],[0.51,[[0,0.33],[0.69,0.3],[1.25,0.25],[1.89,0.2],[2.957,0.1321],[3.605,0.0842],[4.266,0.0546],[4.94,0.039],[5.65,0.022],[6.34,0.0109],[7.6,0.0051],[9.5,0.0026]]],[0.42,[[0,0.28],[0.83,0.25],[1.53,0.2],[2.26,0.19],[2.97,0.1507],[3.618,0.0924],[4.272,0.0585],[4.947,0.0429],[5.65,0.0253],[6.34,0.0137],[7.6,0.0051],[9.5,0.0026]]]],"dips":[[3.64,1.118,0.6,0.07,0.9,1.1],[2.48,0.9,0.45,0.045,0.9,1.2],[2.9,0.606,1.3,0.05,0.92,1.2],[3.9,0.606,1.2,0.06,0.45,1.6],[5.8,0.91,0.55,0.05,0.6,1.4]],"bumps":[]},"h10":{"rows":[[1.48,[[0,0.68],[0.41,0.67],[0.55,0.6],[0.76,0.5],[0.97,0.42],[1.15,0.3],[1.36,0.2],[1.53,0.15],[1.764,0.1129],[2.365,0.081],[2.893,0.06],[4.1,0.029],[5.3,0.0142],[6.6,0.0086],[7.8,0.0024]]],[1.25,[[0,0.86],[0.45,0.82],[0.83,0.74],[1.04,0.6],[1.22,0.5],[1.39,0.42],[1.64,0.3],[1.89,0.1891],[2.17,0.1299],[2.468,0.088],[2.899,0.064],[4.1,0.0326],[5.3,0.0171],[6.6,0.0106],[7.8,0.0058],[9,0.0024]]],[1.14,[[0,0.97],[0.3,0.95],[0.61,0.85],[0.89,0.72],[1.1,0.6],[1.31,0.5],[1.49,0.42],[1.72,0.3],[2.03,0.2],[2.31,0.15],[2.595,0.1],[2.905,0.085],[4.1,0.0452],[5.3,0.0249],[6.6,0.015],[7.8,0.009],[9,0.0048]]],[0.945,[[0,0.9],[0.3,0.87],[0.75,0.72],[1.03,0.6],[1.24,0.5],[1.45,0.42],[1.68,0.3],[2.0,0.2],[2.27,0.15],[2.538,0.11],[2.912,0.09],[4.106,0.0497],[5.3,0.0249],[6.6,0.012],[7.8,0.006],[9,0.0036]]],[0.82,[[0,0.74],[0.3,0.7],[0.6,0.6],[0.98,0.5],[1.4,0.42],[1.83,0.3],[2.2,0.2],[2.55,0.15],[2.964,0.13],[3.525,0.0996],[4.082,0.068],[4.68,0.0406],[5.3,0.0228],[5.9,0.0123],[6.5,0.006],[8,0.003]]],[0.72,[[0,0.62],[0.66,0.5],[1.2,0.42],[1.72,0.3],[2.2,0.2],[2.65,0.15],[3.104,0.13],[3.525,0.0996],[4.082,0.068],[4.68,0.0406],[5.3,0.0235],[5.9,0.0136],[6.5,0.0072],[8,0.003]]],[0.565,[[0,0.38],[0.77,0.3],[1.52,0.2],[2.58,0.15],[3.091,0.12],[3.512,0.0898],[4.076,0.0635],[4.68,0.0406],[5.3,0.0249],[5.9,0.0154],[6.5,0.012],[7.1,0.006],[8.5,0.003]]],[0.44,[[0,0.3],[0.33,0.29],[1.2,0.2],[2.47,0.15],[3.091,0.12],[3.518,0.0947],[4.082,0.068],[4.686,0.0446],[5.3,0.0285],[5.9,0.0172],[6.5,0.012],[7.1,0.0072],[8.5,0.003]]]],"dips":[[3.17,1.136,0.7,0.08,0.9,1.1],[2.6,0.92,0.45,0.045,0.9,1.2],[2.74,0.624,1.3,0.055,0.92,1.2],[3.7,0.62,1.2,0.06,0.45,1.6],[5.74,0.88,0.55,0.05,0.55,1.4]],"bumps":[]},"h11":{"rows":[[1.48,[[0,0.67],[0.3,0.65],[0.43,0.6],[0.64,0.5],[0.85,0.42],[1.06,0.3],[1.3,0.2],[1.52,0.15],[1.85,0.11],[2.6,0.085],[3.4,0.06],[4.1,0.0357],[5.3,0.0203],[6.6,0.0055],[7.8,0.0028]]],[1.35,[[0,0.78],[0.3,0.76],[0.55,0.72],[0.8,0.6],[0.97,0.5],[1.15,0.42],[1.4,0.3],[1.7,0.2],[1.98,0.15],[2.35,0.115],[2.9,0.095],[4.113,0.0489],[5.3,0.0237],[6.6,0.0083],[7.8,0.0044]]],[1.23,[[0,0.9],[0.48,0.88],[0.83,0.78],[1.04,0.72],[1.25,0.6],[1.43,0.5],[1.6,0.42],[1.85,0.3],[2.17,0.2],[2.45,0.15],[2.951,0.12],[4.126,0.0621],[5.3,0.027],[6.6,0.011],[7.5,0.0055],[9,0.0033]]],[1.12,[[0,0.96],[0.55,0.95],[0.83,0.85],[1.11,0.72],[1.36,0.6],[1.53,0.5],[1.71,0.42],[1.96,0.3],[2.23,0.2],[2.55,0.15],[2.938,0.11],[4.119,0.0578],[5.3,0.027],[6.6,0.0138],[7.8,0.0099],[9,0.0055]]],[0.99,[[0,0.93],[0.25,0.91],[0.55,0.85],[0.85,0.72],[1.1,0.6],[1.3,0.5],[1.5,0.42],[1.78,0.3],[2.1,0.2],[2.4,0.15],[2.85,0.1],[4.119,0.0533],[5.3,0.027],[6.6,0.0165],[7.8,0.011],[9,0.0055]]],[0.82,[[0,0.76],[0.33,0.73],[0.76,0.6],[1.25,0.5],[1.62,0.42],[2.15,0.3],[2.58,0.2],[3.1,0.15],[3.564,0.1186],[4.135,0.0886],[4.706,0.0548],[5.3,0.0338],[5.9,0.0199],[6.5,0.011],[7.1,0.0055],[8.5,0.0028]]],[0.695,[[0,0.62],[0.3,0.6],[0.9,0.5],[1.7,0.42],[2.3,0.3],[2.9,0.2],[3.3,0.16],[3.6,0.1227],[4.129,0.0842],[4.706,0.0548],[5.3,0.0338],[5.9,0.0199],[6.5,0.011],[7.1,0.0066],[8.5,0.0028]]],[0.57,[[0,0.37],[0.77,0.3],[1.52,0.2],[2.26,0.15],[3.004,0.13],[3.565,0.0988],[4.109,0.0712],[5.3,0.0338],[6.5,0.0176],[7.8,0.011],[9,0.0044]]],[0.44,[[0,0.3],[0.33,0.29],[1.2,0.2],[2.26,0.15],[3.004,0.13],[3.565,0.0988],[4.109,0.0712],[5.3,0.0338],[6.5,0.0165],[7.8,0.0083],[9,0.0033]]]],"dips":[[3.69,1.088,0.65,0.07,0.9,1.1],[2.42,0.926,0.45,0.045,0.85,1.2],[2.8,0.577,1.3,0.05,0.92,1.2],[3.8,0.577,1.2,0.06,0.45,1.6],[5.9,0.88,0.55,0.05,0.55,1.4]],"bumps":[[9.0,1.17,0.9,0.13,0.01]]}};
const GEO={h00:[44,19,20],h01:[44,154.3,154],h10:[232,19,20],h11:[232,154.3,154]};
for(const id in PP){const M=PP[id],c=document.getElementById(id),g=c.getContext('2d'),W=c.width,H=c.height,im=g.createImageData(W,H),d=im.data;const x0=GEO[id][0],y0=GEO[id][1];
const fs=M.rows.map(r=>r[0]);const prof=M.rows.map(r=>{const fn=pchip(r[1]);const a=new Float32Array(W);for(let i=0;i<W;i++)a[i]=fn(i/16.64);return a;});
for(let j=0;j<H;j++){const y=GEO[id][2]+j+0.5;const f=1.4-(y-(y0+12.2))/118.2;const w=crw(fs,f);
for(let i=0;i<W;i++){const t=i/16.64;let v=0;for(let k=0;k<fs.length;k++)if(w[k])v+=w[k]*prof[k][i];
for(const b of M.bumps){const r2=Math.pow((t-b[0])/b[2],2)+Math.pow((f-b[1])/b[3],2);v+=b[4]*Math.exp(-r2);}
for(const q of M.dips){const r=Math.sqrt(Math.pow((t-q[0])/q[2],2)+Math.pow((f-q[1])/q[3],2));v*=1-q[4]*Math.exp(-Math.pow(r,q.length>5?q[5]:2));}
const col=cm(v);const o=(j*W+i)*4;d[o]=col[0];d[o+1]=col[1];d[o+2]=col[2];d[o+3]=255;}}
g.putImageData(im,0,0);}
</script></body></html>
